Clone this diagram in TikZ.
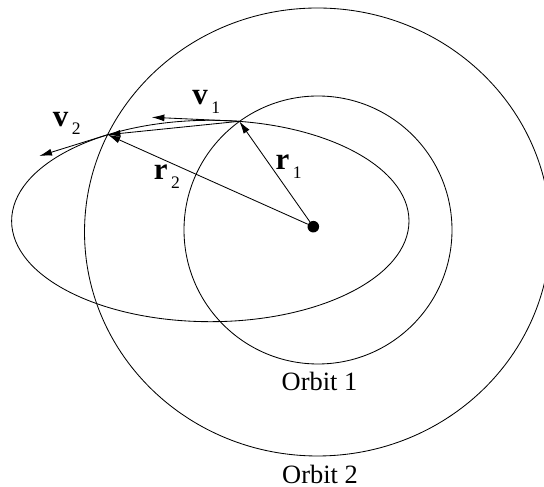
\documentclass[tikz,border=0pt]{standalone}
\usepackage{fontspec}
\setmainfont{Liberation Serif}
\usetikzlibrary{arrows.meta}
\newcommand{\veclab}[2]{\fontsize{22}{22}\selectfont\textbf{#1}\kern2.5pt\raisebox{-6pt}{\fontsize{12.5}{12.5}\selectfont #2}}
\tikzset{
  orbit/.style={line width=0.6pt},
  vecarrow/.style={line width=0.6pt, -{Latex[length=9pt,width=5pt]}},
  veclabel/.style={inner sep=0pt, anchor=base west},
  orbitlabel/.style={inner sep=0pt, anchor=base, font=\fontsize{18.8}{20}\selectfont}
}

\begin{document}
\begin{tikzpicture}
  \clip (-7.833,-6.5075) rectangle (5.7675,5.6675);
  % orbits
  \draw[orbit] (0.1175,-0.0825) circle [radius=3.35];
  \draw[orbit] (0.105,-0.1325) ellipse [x radius=5.825, y radius=5.6];
  \draw[orbit] (-2.575,0.1425) ellipse [x radius=4.9675, y radius=2.5175];
  % central body
  \node[circle, fill, inner sep=0pt, minimum size=0.29cm] (O) at (0,0) {};
  \coordinate (P1) at (-1.85,2.635);
  \coordinate (P2) at (-5.14,2.30);
  \coordinate (V1) at (-4.04,2.735);
  \coordinate (V2) at (-6.85,1.7675);
  % position vectors
  \draw[vecarrow] (O) -- (P1);
  \draw[vecarrow] (O) -- (P2);
  \draw[vecarrow] (P1) -- (P2);
  % velocities
  \draw[vecarrow] (P1) -- (V1);
  \draw[vecarrow] (P2) -- (V2);
  % labels
  \node[veclabel] (v1) at (-3.03,3.0425) {\veclab{v}{1}};
  \node[veclabel] (v2) at (-6.52,2.505) {\veclab{v}{2}};
  \node[veclabel] (r1) at (-0.95,1.4175) {\veclab{r}{1}};
  \node[veclabel] (r2) at (-3.99,1.1675) {\veclab{r}{2}};
  \node[orbitlabel] (o1) at (0.155,-4.1075) {Orbit 1};
  \node[orbitlabel] (o2) at (0.1675,-6.41) {Orbit 2};
\end{tikzpicture}
\end{document}
